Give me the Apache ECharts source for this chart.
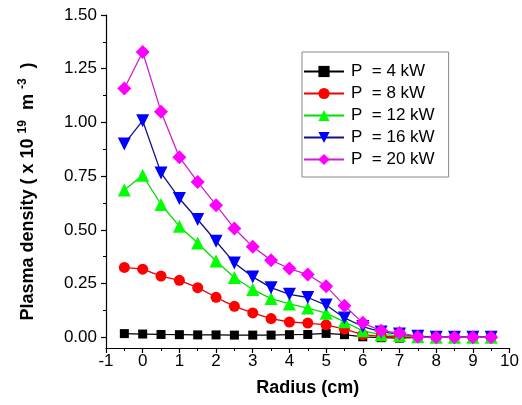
<!DOCTYPE html>
<html>
<head>
<meta charset="utf-8">
<script src="https://cdn.jsdelivr.net/npm/echarts@6/dist/echarts.min.js"></script>
<style>
html,body{margin:0;padding:0;background:#fff;}
#c{width:522px;height:405px;}
</style>
</head>
<body>
<div id="c"></div>
<script>
var radius = [-0.5,0,0.5,1,1.5,2,2.5,3,3.5,4,4.5,5,5.5,6,6.5,7,7.5,8,8.5,9,9.5];
var p4  = [0.017,0.015,0.013,0.012,0.011,0.011,0.010,0.010,0.010,0.012,0.013,0.018,0.012,0.002,-0.002,-0.004,0,0,0,0,0];
var p8  = [0.325,0.317,0.285,0.265,0.231,0.186,0.144,0.113,0.087,0.071,0.066,0.058,0.038,0.012,0.004,0.002,0,0,0,0,0];
var p12 = [0.685,0.754,0.618,0.517,0.439,0.355,0.278,0.222,0.180,0.155,0.136,0.112,0.072,0.030,0.012,0.008,0.002,0,0,0,0];
var p16 = [0.900,1.008,0.765,0.646,0.548,0.447,0.346,0.281,0.231,0.200,0.185,0.150,0.090,0.050,0.025,0.015,0.005,0,0,0,0];
var p20 = [1.158,1.328,1.050,0.838,0.723,0.615,0.506,0.421,0.359,0.320,0.292,0.238,0.147,0.067,0.030,0.020,0.002,0,0,0,0];
var seriesNames = ['P  = 4 kW','P  = 8 kW','P  = 12 kW','P  = 16 kW','P  = 20 kW'];
var yTicks = [0,0.25,0.5,0.75,1.0,1.25,1.5];
var yMinorTicks = [0.125,0.375,0.625,0.875,1.125,1.375];

function pairs(ys){ return radius.map(function(x,i){ return [x, ys[i]]; }); }

var font = 'Liberation Sans, Arial, sans-serif';
var chart = echarts.init(document.getElementById('c'), null, {renderer:'canvas'});

function mk(name, data, lineColor, markColor, symbol, size){
  return {
    name: name, type: 'line', data: pairs(data),
    symbol: symbol, symbolSize: size, showSymbol: true,
    lineStyle: {color: lineColor, width: 1.3},
    itemStyle: {color: markColor, borderWidth: 0},
    emphasis: {disabled: true},
    animation: false
  };
}

var downTri = 'path://M0,0 L12,0 L6,10.4 Z';

chart.setOption({
  animation: false,
  textStyle: {fontFamily: font},
  grid: {left: 106, right: 10, top: 15, bottom: 57, containLabel: false},
  legend: {
    orient: 'vertical', left: 302, top: 52,
    padding: [11, 14, 9, 1],
    borderColor: '#888', borderWidth: 1,
    itemWidth: 40, itemHeight: 14, itemGap: 5,
    textStyle: {fontSize: 17, color: '#000', fontFamily: font, lineHeight: 12, padding: [0,0,0,2]},
    data: seriesNames
  },
  xAxis: {
    type: 'value', min: -1, max: 10, interval: 1,
    name: 'Radius (cm)', nameLocation: 'middle', nameGap: 31,
    nameTextStyle: {fontSize: 18, fontWeight: 'bold', color: '#000', fontFamily: font},
    axisLine: {show: true, onZero: false, lineStyle: {color: '#000', width: 1.2}},
    axisTick: {show: true, length: 5, lineStyle: {color: '#000', width: 1.2}},
    minorTick: {show: true, splitNumber: 2, length: 3, lineStyle: {color: '#000', width: 1}},
    axisLabel: {fontSize: 17, color: '#000', margin: 5, fontFamily: font},
    splitLine: {show: false}
  },
  yAxis: [{
    type: 'value', min: -0.05, max: 1.5, position: 'left',
    name: '{b|Plasma density ( x 10 }{s|19}{b|  m }{s|-3}{b|  )}',
    nameLocation: 'middle', nameGap: 66, nameRotate: 90,
    nameTextStyle: {
      color: '#000', fontFamily: font, padding: [0, 20, 0, 0],
      rich: {
        b: {fontSize: 18, fontWeight: 'bold', color: '#000', fontFamily: font},
        s: {fontSize: 12, fontWeight: 'bold', color: '#000', fontFamily: font, padding: [0,0,11,0]}
      }
    },
    axisLine: {show: true, onZero: false, lineStyle: {color: '#000', width: 1.2}},
    axisTick: {show: true, length: 5, customValues: yTicks, lineStyle: {color: '#000', width: 1.2}},
    axisLabel: {fontSize: 17, color: '#000', margin: 9, fontFamily: font, customValues: yTicks,
      formatter: function(v){ return v.toFixed(2); }},
    splitLine: {show: false}
  },{
    type: 'value', min: -0.05, max: 1.5, position: 'left', offset: 0,
    axisLine: {show: false, onZero: false},
    axisTick: {show: true, length: 3, customValues: yMinorTicks, lineStyle: {color: '#000', width: 1}},
    axisLabel: {show: false},
    splitLine: {show: false}
  }],
  series: [
    mk(seriesNames[0], p4, '#000000', '#000000', 'rect', 9),
    mk(seriesNames[1], p8, '#ee0000', '#ff0000', 'circle', 11),
    mk(seriesNames[2], p12, '#00dd00', '#00ff00', 'triangle', 13),
    mk(seriesNames[3], p16, '#10108a', '#0000ff', downTri, 13),
    mk(seriesNames[4], p20, '#cc22cc', '#ff00ff', 'diamond', 14)
  ]
});
</script>
</body>
</html>
